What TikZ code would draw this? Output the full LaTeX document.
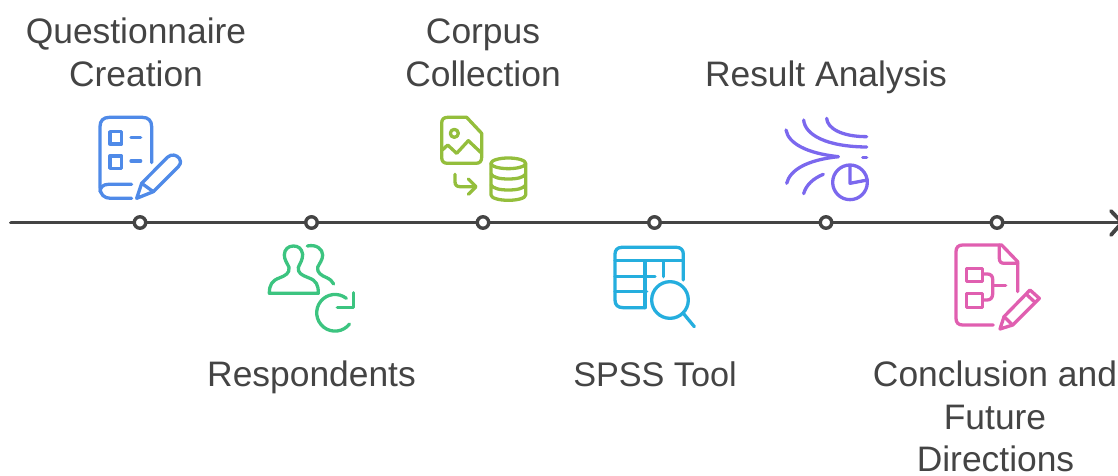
\documentclass[tikz,border=0pt]{standalone}
\usepackage{fontspec}
\setmainfont{Liberation Sans}
\definecolor{axisc}{HTML}{444444}
\definecolor{textc}{HTML}{444444}
\definecolor{iblue}{HTML}{4F8AE8}
\definecolor{igreen}{HTML}{3CC480}
\definecolor{iolive}{HTML}{94BE3C}
\definecolor{icyan}{HTML}{25AEDE}
\definecolor{ipurple}{HTML}{7B68EE}
\definecolor{ipink}{HTML}{E05FB0}
\tikzset{
  axisline/.style={draw=axisc,line width=3.8pt,line cap=round,line join=round},
  stepdot/.style={circle,draw=axisc,fill=white,line width=3.4pt,minimum size=11.5pt,inner sep=0pt},
  lbl/.style={text=textc,font=\fontsize{35.4}{43}\selectfont,align=center,inner sep=0pt},
  icon/.style={line width=3.3pt,line cap=round,line join=round},
}
\begin{document}
\begin{tikzpicture}[x=1pt,y=-1pt]
\useasboundingbox (0,0) rectangle (1118,475);
% axis
\coordinate (start) at (11,222.5);
\coordinate (tip) at (1122,222.5);
\coordinate (tipa) at (1111,211);
\coordinate (tipb) at (1111,235);
\draw[axisline] (start) -- (tip);
\draw[axisline] (tipa) -- (tip) -- (tipb);
\node[stepdot] (n1) at (140,222.5) {};
\node[stepdot] (n2) at (311.5,222.5) {};
\node[stepdot] (n3) at (483,222.5) {};
\node[stepdot] (n4) at (654.5,222.5) {};
\node[stepdot] (n5) at (826,222.5) {};
\node[stepdot] (n6) at (997,222.5) {};
% labels
\node[lbl,anchor=base] (l1a) at (136,43) {Questionnaire};
\node[lbl,anchor=base] (l1b) at (136,86) {Creation};
\node[lbl,anchor=base] (l2) at (311.5,386) {Respondents};
\node[lbl,anchor=base] (l3a) at (483,43) {Corpus};
\node[lbl,anchor=base] (l3b) at (483,86) {Collection};
\node[lbl,anchor=base,font=\fontsize{34.2}{43}\selectfont] (l4) at (655,386) {SPSS Tool};
\node[lbl,anchor=base] (l5) at (826,86) {Result Analysis};
\node[lbl,anchor=base] (l6a) at (995,386) {Conclusion and};
\node[lbl,anchor=base] (l6b) at (995,429) {Future};
\node[lbl,anchor=base] (l6c) at (995.5,471) {Directions};
% icon 1: questionnaire
\begin{scope}[shift={(80,100)},x=0.3333pt,y=-0.3333pt,icon,draw=iblue]
\draw (215,188) -- (215,80) .. controls (215,62) and (205,52) .. (187,52) -- (88,52) .. controls (70,52) and (60,62) .. (60,80) -- (60,262) .. controls (60,283) and (72,295) .. (92,295) -- (155,295);
\draw (155,253) -- (85,253) .. controls (70,253) and (60,262) .. (60,275);
\draw (90,95) rectangle (125,132);
\draw (90,168) rectangle (125,205);
\draw (153,113) -- (182,113);
\draw (153,183) -- (182,183);
\draw (170,295) -- (185,250) -- (262,172) .. controls (275,160) and (290,165) .. (298,175) .. controls (305,188) and (300,195) .. (295,200) -- (220,275) -- cycle;
\draw (185,250) -- (220,275);
\end{scope}
% icon 2: respondents
\begin{scope}[shift={(250,210)},x=0.3333pt,y=-0.3333pt,icon,draw=igreen]
\draw (58,250) -- (205,250) .. controls (205,225) and (200,212) .. (175,203) .. controls (155,195) and (143,190) .. (145,172) .. controls (150,160) and (158,150) .. (158,133) .. controls (155,115) and (145,108) .. (130,108) .. controls (115,108) and (103,118) .. (103,135) .. controls (103,150) and (112,160) .. (117,172) .. controls (120,190) and (105,197) .. (90,203) .. controls (65,212) and (58,225) .. (58,250) -- cycle;
\draw (172,108) .. controls (200,102) and (218,118) .. (218,135) .. controls (218,150) and (208,160) .. (203,172) .. controls (200,188) and (215,197) .. (230,203) .. controls (240,208) and (247,213) .. (251,222);
\draw (289,265) arc[start angle=-52,end angle=-322,radius=55];
\draw (262,292) -- (310,292) -- (310,248);
\end{scope}
% icon 3: corpus
\begin{scope}[shift={(425,105)},x=0.3333pt,y=-0.3333pt,icon,draw=iolive]
\draw (125,37) -- (68,37) .. controls (56,37) and (50,43) .. (50,55) -- (50,157) .. controls (50,169) and (56,175) .. (68,175) -- (152,175) .. controls (164,175) and (170,169) .. (170,157) -- (170,85) -- cycle;
\draw (88,85) circle[radius=12];
\draw (52,135) -- (68,120) -- (95,145) -- (130,107) -- (167,142);
\draw (90,208) -- (90,230) .. controls (90,240) and (95,245) .. (105,245) -- (152,245);
\draw (130,222) -- (153,245) -- (130,268);
\draw (250,175) ellipse[x radius=52,y radius=16];
\draw (198,175) -- (198,270) .. controls (198,280) and (225,286) .. (250,286) .. controls (275,286) and (302,280) .. (302,270) -- (302,175);
\draw (198,207) .. controls (205,218) and (225,222) .. (250,222) .. controls (275,222) and (295,218) .. (302,207);
\draw (198,240) .. controls (205,251) and (225,255) .. (250,255) .. controls (275,255) and (295,251) .. (302,240);
\end{scope}
% icon 4: spss
\begin{scope}[shift={(595,210)},x=0.3333pt,y=-0.3333pt,icon,draw=icyan]
\draw (265,210) -- (265,132) .. controls (265,120) and (257,112) .. (245,112) -- (80,112) .. controls (68,112) and (60,120) .. (60,132) -- (60,270) .. controls (60,285) and (68,293) .. (85,293) -- (150,293);
\draw (60,152) -- (265,152);
\draw (60,200) -- (180,200);
\draw (60,245) -- (155,245);
\draw (150,152) -- (150,293);
\draw (205,152) -- (205,200);
\draw (225,270) circle[radius=55];
\draw (264,309) -- (298,350);
\end{scope}
% icon 5: result analysis
\begin{scope}[shift={(770,105)},x=0.3333pt,y=-0.3333pt,icon,draw=ipurple]
\draw (48,75) .. controls (55,115) and (110,145) .. (205,155);
\draw (50,235) .. controls (60,195) and (110,165) .. (205,155);
\draw (101,45) .. controls (105,90) and (170,125) .. (290,126);
\draw (170,40) .. controls (172,70) and (215,95) .. (290,95);
\draw (278,157) -- (290,157);
\draw (101,266) .. controls (108,240) and (130,220) .. (160,208);
\draw (240,232) circle[radius=52];
\draw (240,182) -- (240,235) -- (292,225);
\end{scope}
% icon 6: conclusion
\begin{scope}[shift={(940,210)},x=0.3333pt,y=-0.3333pt,icon,draw=ipink]
\draw (160,345) -- (68,345) .. controls (55,345) and (48,338) .. (48,325) -- (48,125) .. controls (48,112) and (55,105) .. (68,105) -- (185,105) -- (233,155) -- (233,245);
\draw (178,105) -- (178,145) .. controls (178,155) and (183,160) .. (193,160) -- (233,160);
\draw (80,175) rectangle (128,215);
\draw (80,250) rectangle (128,293);
\draw (128,192) -- (142,192) .. controls (152,192) and (158,198) .. (158,208) -- (158,252) .. controls (158,262) and (152,270) .. (142,270) -- (128,270);
\draw (158,227) -- (197,227);
\draw (180,357) -- (192,320) -- (270,240) -- (298,265) -- (218,345) -- cycle;
\draw (192,320) -- (218,345);
\draw (258,252) -- (284,276);
\end{scope}
\end{tikzpicture}
\end{document}
